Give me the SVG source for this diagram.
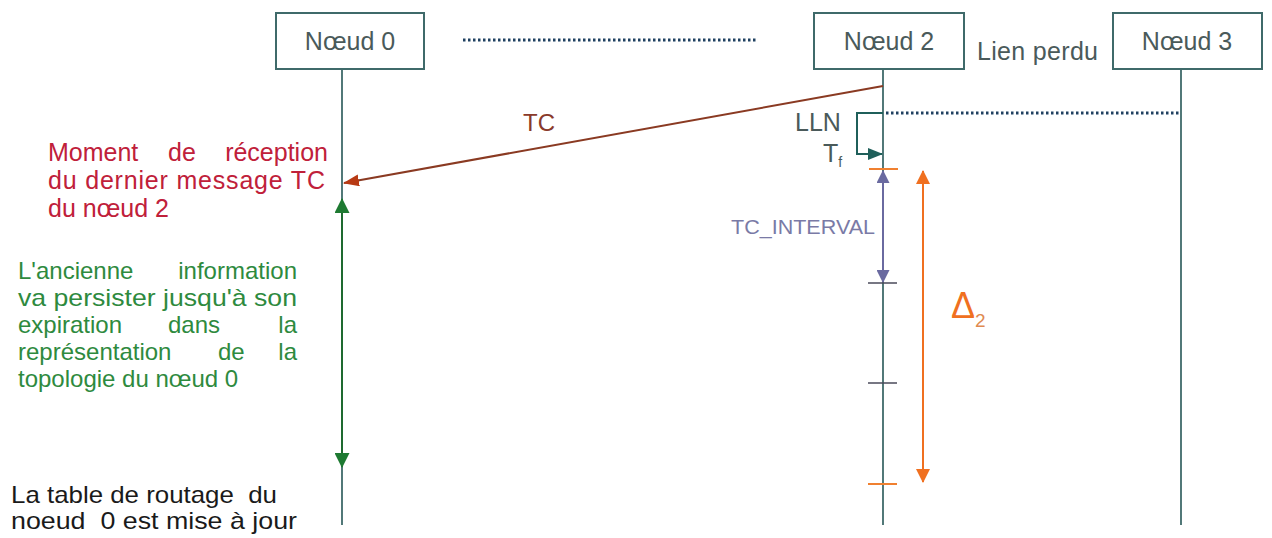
<svg xmlns="http://www.w3.org/2000/svg" width="1272" height="538" viewBox="0 0 1272 538">
<style>
text{font-family:"Liberation Sans",Arial,sans-serif}
.box{fill:#fff;stroke:#3f6a6a;stroke-width:2}
.bt{font-size:25px;fill:#4a5a5a;text-anchor:middle}
.life{stroke:#3f6a6a;stroke-width:1.8;fill:none}
.dot{stroke:#1f4060;stroke-width:3;stroke-dasharray:2.5 2.5;fill:none}
.red{font-size:25px;fill:#c0203a}
.green{font-size:24px;fill:#2e8a3e}
.black{font-size:24px;fill:#1a1a1a;white-space:pre}
.tickd{stroke:#4a4a5a;stroke-width:1.5}
.ticko{stroke:#f08030;stroke-width:2}
</style>
<defs>
<marker id="mBrown" viewBox="0 0 16 12" refX="15" refY="6" markerWidth="16" markerHeight="12" orient="auto" markerUnits="userSpaceOnUse"><path d="M0,0 L16,6 L0,12 z" fill="#b83a14"/></marker>
<marker id="mGreen" viewBox="0 0 15 15" refX="14" refY="7.5" markerWidth="15" markerHeight="15" orient="auto-start-reverse" markerUnits="userSpaceOnUse"><path d="M0,0 L15,7.5 L0,15 z" fill="#1e7a32"/></marker>
<marker id="mPurple" viewBox="0 0 13 13" refX="12" refY="6.5" markerWidth="13" markerHeight="13" orient="auto-start-reverse" markerUnits="userSpaceOnUse"><path d="M0,0 L13,6.5 L0,13 z" fill="#6a6aa0"/></marker>
<marker id="mOrange" viewBox="0 0 14 14" refX="13" refY="7" markerWidth="14" markerHeight="14" orient="auto-start-reverse" markerUnits="userSpaceOnUse"><path d="M0,0 L14,7 L0,14 z" fill="#f07020"/></marker>
<marker id="mTeal" viewBox="0 0 15 12" refX="14" refY="6" markerWidth="15" markerHeight="12" orient="auto" markerUnits="userSpaceOnUse"><path d="M0,0 L15,6 L0,12 z" fill="#1f5f5a"/></marker>
</defs>

<g id="connectors">
<line class="life" x1="342" y1="69" x2="342" y2="525"/>
<line class="life" x1="883" y1="69" x2="883" y2="525"/>
<line class="life" x1="1181" y1="69" x2="1181" y2="525"/>
<line class="dot" x1="463" y1="40" x2="757" y2="40"/>
<line class="dot" x1="886" y1="113" x2="1181" y2="113"/>
<line x1="883" y1="86" x2="344" y2="183" stroke="#8a3a22" stroke-width="2" marker-end="url(#mBrown)"/>
<path d="M883,113 H857 V154 H882" fill="none" stroke="#1f5f5a" stroke-width="2" marker-end="url(#mTeal)"/>
<line x1="342" y1="199" x2="342" y2="467" stroke="#1e6a30" stroke-width="2" marker-start="url(#mGreen)" marker-end="url(#mGreen)"/>
<line x1="883" y1="171" x2="883" y2="282" stroke="#6a6aa0" stroke-width="2" marker-start="url(#mPurple)" marker-end="url(#mPurple)"/>
<line x1="923" y1="171" x2="923" y2="482" stroke="#f07020" stroke-width="2" marker-start="url(#mOrange)" marker-end="url(#mOrange)"/>
<line class="ticko" x1="869" y1="169" x2="898" y2="169"/>
<line class="tickd" x1="868" y1="283" x2="897" y2="283"/>
<line class="tickd" x1="868" y1="383" x2="897" y2="383"/>
<line class="ticko" x1="868" y1="484" x2="897" y2="484"/>
</g>

<g id="node0"><rect class="box" x="276" y="13" width="148" height="56"/><text class="bt" x="350" y="50">Nœud 0</text></g>
<g id="node2"><rect class="box" x="814" y="13" width="150" height="56"/><text class="bt" x="889" y="50">Nœud 2</text></g>
<g id="node3"><rect class="box" x="1113" y="13" width="149" height="56"/><text class="bt" x="1187" y="50">Nœud 3</text></g>

<g id="labels">
<text x="977" y="60" font-size="25" fill="#4a5a5a" textLength="121">Lien perdu</text>
<text x="523" y="131" font-size="24" fill="#8a3a2a">TC</text>
<text x="795" y="131" font-size="25" fill="#4a5a5a">LLN</text>
<text x="823" y="162" font-size="25" fill="#4a5a5a">T<tspan font-size="14" dy="5">f</tspan></text>
<text x="731" y="234" font-size="20" fill="#7a7aa6" textLength="144" lengthAdjust="spacingAndGlyphs">TC_INTERVAL</text>
<text x="951" y="318" font-size="36" fill="#f07020">Δ<tspan font-size="19" dy="9" fill="#e08a50">2</tspan></text>

<text class="red"><tspan x="48" y="161">Moment</tspan><tspan x="168" y="161">de</tspan><tspan x="328" y="161" text-anchor="end">réception</tspan><tspan x="48" y="189" textLength="277">du dernier message TC</tspan><tspan x="48" y="217">du nœud 2</tspan></text>

<text class="green"><tspan x="18" y="279">L'ancienne</tspan><tspan x="297" y="279" text-anchor="end">information</tspan><tspan x="18" y="306" textLength="279" lengthAdjust="spacingAndGlyphs">va persister jusqu'à son</tspan><tspan x="18" y="333">expiration</tspan><tspan x="168" y="333">dans</tspan><tspan x="297" y="333" text-anchor="end">la</tspan><tspan x="18" y="360">représentation</tspan><tspan x="218" y="360">de</tspan><tspan x="297" y="360" text-anchor="end">la</tspan><tspan x="18" y="387">topologie du nœud 0</tspan></text>

<text class="black"><tspan x="11" y="503" textLength="266" lengthAdjust="spacingAndGlyphs">La table de routage  du</tspan><tspan x="11" y="529" textLength="286" lengthAdjust="spacingAndGlyphs">noeud  0 est mise à jour</tspan></text>
</g>
</svg>
